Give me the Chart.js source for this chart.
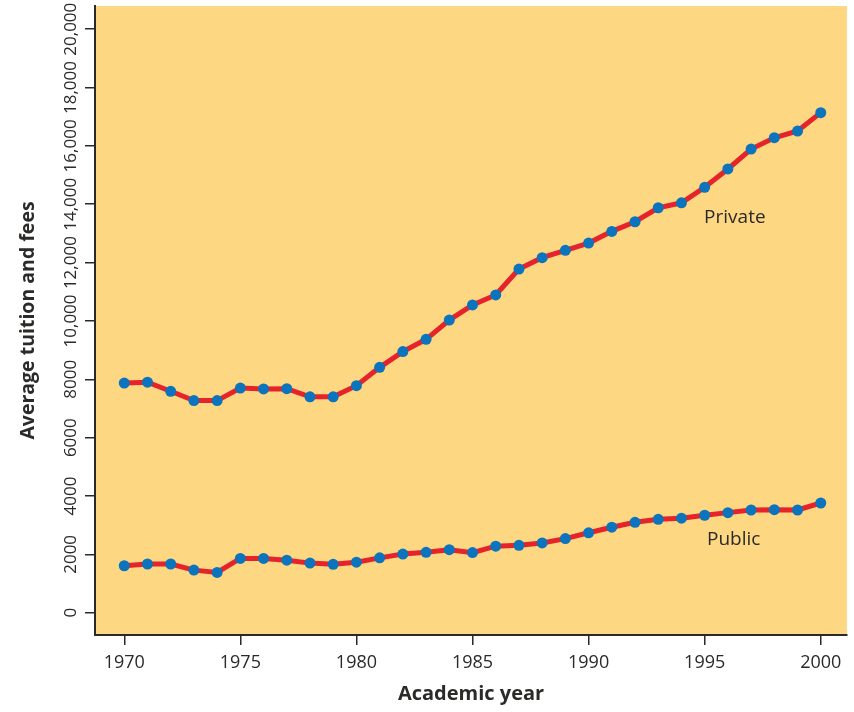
<!DOCTYPE html>
<html>
<head>
<meta charset="utf-8">
<script src="https://cdn.jsdelivr.net/npm/chart.js@4.4.0/dist/chart.umd.min.js"></script>
<style>
  html, body { margin: 0; padding: 0; background: #ffffff; }
  #wrap { width: 854px; height: 712px; position: relative; }
</style>
</head>
<body>
<div id="wrap"><canvas id="c" width="854" height="712"></canvas></div>
<script>
// ---- data ----
const years = [1970,1971,1972,1973,1974,1975,1976,1977,1978,1979,1980,1981,1982,1983,1984,1985,1986,1987,1988,1989,1990,1991,1992,1993,1994,1995,1996,1997,1998,1999,2000];
const privateFees = [7870,7900,7590,7270,7270,7700,7670,7680,7400,7400,7780,8410,8950,9370,10030,10550,10890,11780,12170,12420,12670,13070,13400,13880,14050,14580,15210,15890,16280,16510,17140];
const publicFees = [1610,1670,1670,1460,1380,1860,1860,1800,1700,1660,1730,1880,2010,2070,2160,2060,2280,2310,2390,2540,2740,2930,3100,3200,3240,3340,3430,3520,3530,3520,3760];
const xTickValues = [1970,1975,1980,1985,1990,1995,2000];
const yTickValues = [0,2000,4000,6000,8000,10000,12000,14000,16000,18000,20000];
const yTickLabels = ["0","2000","4000","6000","8000","10,000","12,000","14,000","16,000","18,000","20,000"];
const seriesNames = ["Private","Public"];

const TEXT = '#2b2a29';
const FONT = '"Open Sans", "Noto Sans", sans-serif';

const seriesLabelAnchors = [ {x: 1996.3, y: 13530}, {x: 1996.25, y: 2490} ];

const plotBg = {
  id: 'plotBg',
  beforeDraw(chart) {
    const {ctx, chartArea: a} = chart;
    ctx.save();
    ctx.fillStyle = '#FDD782';
    ctx.fillRect(a.left, a.top, a.right - a.left, a.bottom - a.top);
    ctx.restore();
  },
  afterDraw(chart) {
    const {ctx} = chart;
    const ys = chart.scales.y, xs = chart.scales.x;
    ctx.save();
    ctx.fillStyle = TEXT;
    ctx.font = '17px ' + FONT;
    ctx.textAlign = 'center';
    ctx.textBaseline = 'middle';
    yTickValues.forEach((v, i) => {
      const py = ys.getPixelForValue(v);
      ctx.save();
      ctx.translate(71, py);
      ctx.rotate(-Math.PI / 2);
      ctx.fillText(yTickLabels[i], 0, 0);
      ctx.restore();
    });
    ctx.font = '19px ' + FONT;
    seriesNames.forEach((name, i) => {
      const p = seriesLabelAnchors[i];
      ctx.fillText(name, xs.getPixelForValue(p.x), ys.getPixelForValue(p.y));
    });
    ctx.restore();
  }
};

const mk = arr => years.map((yr, i) => ({x: yr, y: arr[i]}));

new Chart(document.getElementById('c'), {
  type: 'line',
  data: {
    datasets: [
      { label: seriesNames[0], data: mk(privateFees) },
      { label: seriesNames[1], data: mk(publicFees) }
    ]
  },
  options: {
    responsive: false,
    animation: false,
    devicePixelRatio: 1,
    layout: { padding: { top: 6, right: 7, left: 0, bottom: 0 } },
    elements: {
      line: { borderColor: '#E5232B', borderWidth: 5, tension: 0 },
      point: { radius: 5.5, backgroundColor: '#0B74BD', borderColor: '#0B74BD', borderWidth: 0 }
    },
    plugins: { legend: { display: false }, tooltip: { enabled: false } },
    scales: {
      x: {
        type: 'linear',
        min: 1968.74,
        max: 2001.13,
        afterBuildTicks: s => { s.ticks = xTickValues.map(v => ({value: v})); },
        afterFit: s => { s.height = 77; },
        border: { display: true, color: '#2b2a29', width: 2 },
        grid: { drawOnChartArea: false, drawTicks: true, tickLength: 10, color: '#2b2a29', lineWidth: 1.5 },
        ticks: { color: TEXT, font: { family: FONT, size: 18 }, padding: 7, maxRotation: 0, callback: v => String(v) },
        title: { display: true, text: 'Academic year', color: TEXT, font: { family: FONT, size: 20, weight: 'bold' }, padding: { top: 0, bottom: 6 } }
      },
      y: {
        type: 'linear',
        min: -764,
        max: 20795,
        afterBuildTicks: s => { s.ticks = yTickValues.map(v => ({value: v})); },
        afterFit: s => { s.width = 95; },
        border: { display: true, color: '#2b2a29', width: 2 },
        grid: { drawOnChartArea: false, drawTicks: true, tickLength: 10, color: '#2b2a29', lineWidth: 1.5 },
        ticks: { display: false },
        title: { display: true, text: 'Average tuition and fees', color: TEXT, font: { family: FONT, size: 19.5, weight: 'bold' }, padding: { top: 17, bottom: 0 } }
      }
    }
  },
  plugins: [plotBg]
});
</script>
</body>
</html>
